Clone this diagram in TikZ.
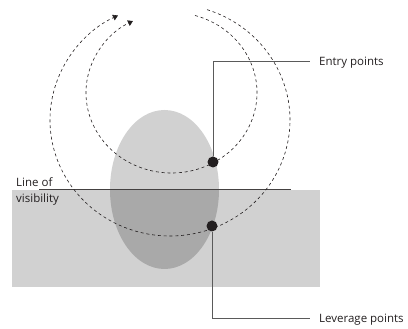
\documentclass[tikz,border=0pt]{standalone}
\usepackage{fontspec}
\setmainfont{Open Sans}
\usepackage{tikz}
\usetikzlibrary{arrows.meta,positioning}
\definecolor{lvShade}{HTML}{D1D1D1}
\definecolor{lvOverlap}{HTML}{A9A9A9}
\definecolor{lvInk}{HTML}{231F20}
\definecolor{lvLead}{HTML}{5A5A5A}
\tikzset{
  lv diagram/.style={x=1pt, y=1pt, font=\fontsize{11.5}{16}\selectfont,
    text=lvInk},
  lv ring/.style={draw=lvInk, line width=0.6pt,
    dash pattern=on 3pt off 2.8pt,
    -{Triangle[length=5pt,width=6pt]}},
  lv point/.style={circle, fill=lvInk, inner sep=0pt, minimum size=11pt},
  lv lead/.style={draw=lvLead, line width=0.8pt},
  lv horizon/.style={draw=lvInk!85, line width=0.9pt},
  lv label/.style={anchor=base west, inner sep=0pt}
}

\begin{document}
\begin{tikzpicture}[lv diagram]
\useasboundingbox (0,0) rectangle (408,329);
% ground below the line and the body
\fill[lvShade] (12,42) rectangle (320,139);
\fill[lvShade] (164.5,139.5) ellipse [x radius=54.5, y radius=79.5];
\begin{scope}
  \clip (12,42) rectangle (320,139);
  \fill[lvOverlap] (164.5,139.5) ellipse [x radius=54.5, y radius=79.5];
\end{scope}
\coordinate (horizon west) at (39,139.5);
\coordinate (horizon east) at (291,139.5);
\draw[lv horizon] (horizon west) -- (horizon east);
\node[lv label,anchor=north west,align=left,text height=7.6pt] (horizonlabel) at (16,134) {Line of\\visibility};
% the two dashed paths
\coordinate (outer ring) at (170,209);
\coordinate (inner ring) at (171.5,236.3);
\draw[lv ring] ([shift={(72:120 and 116)}]outer ring)
  arc[start angle=72, end angle=-244.3, x radius=120, y radius=116];
\draw[lv ring] ([shift={(74:85.5 and 80.3)}]inner ring)
  arc[start angle=74, end angle=-243.2, x radius=85.5, y radius=80.3];
% points and their labels
\node[lv point] (entry) at (213,167) {};
\node[lv point] (leverage) at (212,103) {};
\node[lv label] (entrylabel) at (319,263) {Entry points};
\node[lv label] (leveragelabel) at (319,6) {Leverage points};
\draw[lv lead] (entry.north) |- ([xshift=-9pt,yshift=4.5pt]entrylabel.base west);
\draw[lv lead] (leverage.south) |- ([xshift=-9pt,yshift=4.5pt]leveragelabel.base west);
\end{tikzpicture}
\end{document}
